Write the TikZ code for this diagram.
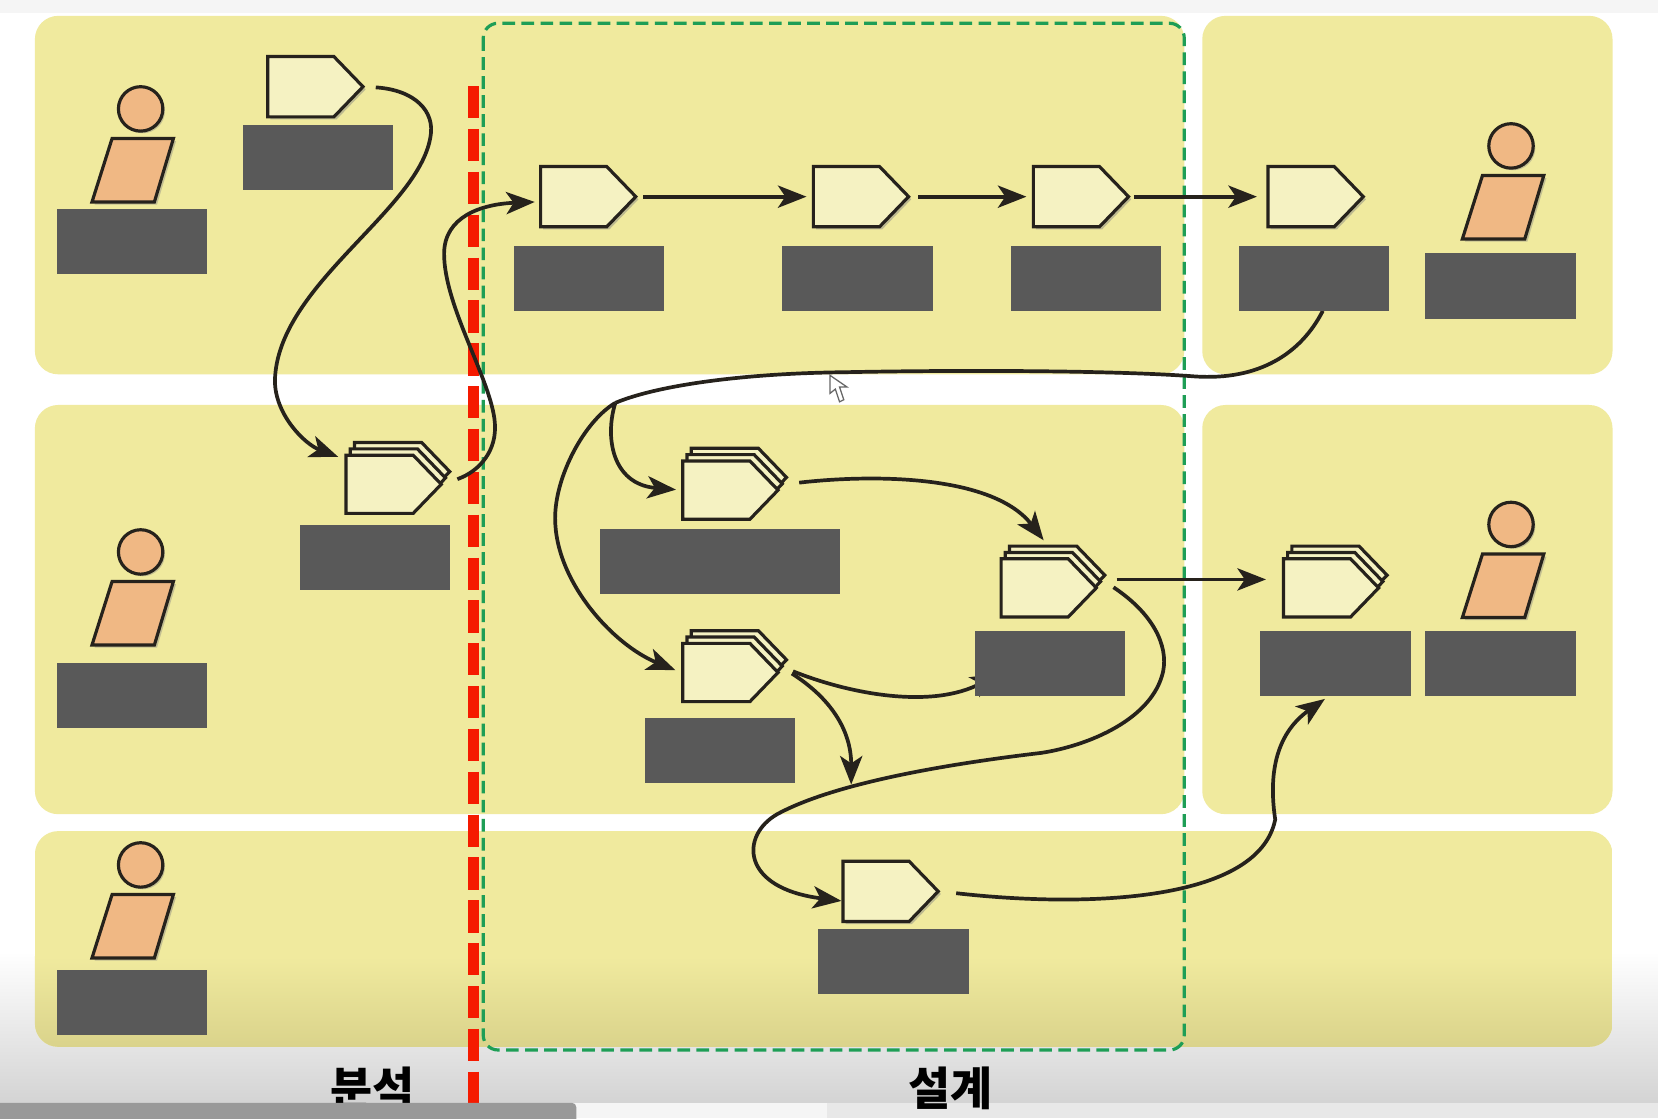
\documentclass[tikz,border=0pt]{standalone}
\usepackage{fontspec}
\newfontfamily\krfont{Noto Sans CJK KR}
\usetikzlibrary{arrows.meta,shapes.symbols,shadows}
\definecolor{bandc}{HTML}{F0EA9E}
\definecolor{bandd}{HTML}{DAD38B}
\definecolor{taskc}{HTML}{F5F2C2}
\definecolor{linec}{HTML}{26221C}
\definecolor{maskc}{HTML}{595959}
\definecolor{skinc}{HTML}{F0B884}
\definecolor{greenc}{HTML}{1E9E56}
\definecolor{redc}{HTML}{F51A00}
\tikzset{
  band/.style={fill=bandc, rounded corners=0.22cm},
  task/.style={shape=signal, signal to=east, signal pointer angle=92, draw=linec, fill=taskc, line width=0.03cm, inner sep=0pt, minimum width=0.9cm, minimum height=0.57cm, drop shadow={shadow xshift=0.025cm, shadow yshift=-0.025cm, opacity=0.45}},
  stack/.style={shape=signal, signal to=east, signal pointer angle=92, draw=linec, fill=taskc, line width=0.03cm, inner sep=0pt, minimum width=0.9cm, minimum height=0.55cm, double copy shadow={shadow xshift=0.04cm, shadow yshift=0.06cm, draw=linec, fill=taskc, line width=0.03cm}},
  maskbox/.style={fill=maskc, inner sep=0pt, minimum width=1.42cm, minimum height=0.615cm},
  personhead/.style={circle, draw=linec, fill=skinc, line width=0.03cm, inner sep=0pt, minimum size=0.42cm, drop shadow={shadow xshift=0.02cm, shadow yshift=-0.02cm, opacity=0.4}},
  personbody/.style={draw=linec, fill=skinc, line width=0.03cm, line join=miter, drop shadow={shadow xshift=0.025cm, shadow yshift=-0.025cm, opacity=0.4}},
  flow/.style={draw=linec, line width=0.035cm, -{Stealth[length=0.27cm, width=0.21cm, inset=0.07cm]}},
  plainflow/.style={draw=linec, line width=0.035cm},
  phase/.style={font=\krfont\bfseries, text=black, inner sep=0pt, scale=1.23}
}
\begin{document}
\begin{tikzpicture}[x=0.01cm, y=-0.01cm]
\useasboundingbox (0,0) rectangle (1568,1057.4);
\fill[white] (0,0) rectangle (1568,1057.4);
\fill[black!4] (0,0) rectangle (1568,12);
\shade[top color=white, bottom color=black!17] (0,900) rectangle (1568,1043);

\fill[band] (33,15) rectangle (1120,354);
\fill[band] (1137,15) rectangle (1525,354);
\fill[band] (33,383) rectangle (1120,770);
\fill[band] (1137,383) rectangle (1525,770);
\begin{scope}
\clip[rounded corners=0.22cm] (33,786) rectangle (1525,990);
\fill[bandc] (33,786) rectangle (1525,990);
\shade[top color=bandc, bottom color=bandd] (33,905) rectangle (1525,990);
\end{scope}

\draw[greenc, line width=0.03cm, rounded corners=0.14cm, dash pattern=on 0.12cm off 0.06cm] (457,22) rectangle (1120,993);
\coordinate (redtop) at (448,81.5);
\coordinate (redend) at (448,1043);
\draw[redc, line width=0.1cm, dash pattern=on 0.305cm off 0.1cm] (redtop) -- (redend);

\foreach \n/\x/\y in {1/133/103, 2/1429/138, 3/133/522, 4/1429/496, 5/133/818} {
  \draw[personbody, shift={(\x,\y)}] (-27,28) -- (31,28) -- (13,88) -- (-46,88) -- cycle;
  \node[personhead] (head\n) at (\x,\y) {};
}

\node[task] (a1) at (284.5,82) {};
\node[task] (b1) at (542.5,186) {};
\node[task] (b2) at (800.5,186) {};
\node[task] (b3) at (1008.5,186) {};
\node[task] (b4) at (1230.5,186) {};
\node[task] (f1) at (828.5,843) {};
\node[stack] (s1) at (359,458) {};
\node[stack] (s2) at (677.5,463.5) {};
\node[stack] (s3) at (677.5,636) {};
\node[stack] (s4) at (978.5,556) {};
\node[stack] (s5) at (1245.5,556) {};

\coordinate (fork) at (582,381);
\coordinate (exit) at (1251,294);
\draw[plainflow] (exit) .. controls (1230,335) and (1190,360) .. (1130,356) .. controls (1050,350) and (900,350) .. (800,352) .. controls (700,353) and (620,365) .. (fork);
\draw[flow, shorten >=0.05cm] (fork) .. controls (572,412) and (578,458) .. (s2.west);
\draw[flow, shorten >=0.06cm] (fork) .. controls (553,398) and (525,450) .. (525,490) .. controls (525,550) and (580,610) .. (s3.west);
\draw[flow, shorten <=0.1cm] (a1.east) .. controls (392,85) and (412,105) .. (407,130) .. controls (395,200) and (262,270) .. (260,360) .. controls (260,392) and (288,420) .. ([xshift=-0.06cm, yshift=0.26cm]s1.west);
\draw[flow, shorten <=0.14cm] (s1.east) .. controls (455,445) and (470,425) .. (468,400) .. controls (465,360) and (420,290) .. (420,240) .. controls (420,205) and (455,193) .. ([xshift=-0.04cm, yshift=-0.05cm]b1.west);
\draw[flow, shorten <=0.05cm, shorten >=0.05cm] (b1.east) -- (b2.west);
\draw[flow, shorten <=0.07cm, shorten >=0.05cm] (b2.east) -- (b3.west);
\draw[flow, shorten <=0.03cm, shorten >=0.09cm] (b3.east) -- (b4.west);
\draw[flow, shorten <=0.18cm] ([yshift=0.05cm]s2.east) .. controls (830,448) and (940,450) .. ([xshift=0.085cm, yshift=0.16cm]s4.north);
\draw[flow, shorten <=0.13cm] ([yshift=0.06cm]s3.east) .. controls (800,655) and (880,672) .. (945,637);
\coordinate (join) at (805,742);
\draw[flow, shorten <=0.13cm] ([yshift=0.06cm]s3.east) .. controls (785,660) and (805,690) .. (join);
\draw[flow, shorten <=0.17cm] ([yshift=0.1cm]s4.east) .. controls (1090,580) and (1105,610) .. (1100,635) .. controls (1090,680) and (1030,705) .. (985,712) .. controls (900,722) and (790,740) .. (735,770) .. controls (700,790) and (700,840) .. ([yshift=-0.09cm]f1.west);
\draw[flow, shorten <=0.17cm, shorten >=0.15cm] ([yshift=0.08cm]s4.east) -- ([yshift=0.08cm]s5.west);
\coordinate (entry) at (1253,661);
\draw[flow, shorten <=0.15cm] (f1.east) .. controls (1020,858) and (1190,855) .. (1206,775) .. controls (1200,735) and (1205,695) .. (entry);

\foreach \n/\x/\y/\w in {1/125/228/1.42, 2/301/149/1.42, 3/557/263.5/1.42, 4/811/263.5/1.42, 5/1027/263.5/1.42, 6/1243/263.5/1.42, 7/1419/270.5/1.42, 8/355/527/1.42, 9/681/531/2.27, 10/993/627.5/1.42, 11/681/709.5/1.42, 12/125/657.5/1.42, 13/1263/627.5/1.42, 14/1419/627.5/1.42, 15/845/909.5/1.42, 16/125/948/1.42} {
  \node[maskbox, minimum width=\w cm] (mask\n) at (\x,\y) {};
}

\draw[black!60, fill=white, line width=0.012cm] (785,355) -- (785,372) -- (790,368) -- (794,380) -- (798,378) -- (794,366) -- (801,366) -- cycle;

\fill[black!9] (780,1043) rectangle (1568,1057.4);
\fill[black!4] (540,1043) rectangle (782,1057.4);
\node[phase] (analysis) at (352,1029) {분석};
\node[phase] (design) at (899,1029) {설계};
\fill[black!40, rounded corners=0.04cm] (-10,1043) rectangle (545,1070);
\end{tikzpicture}
\end{document}
